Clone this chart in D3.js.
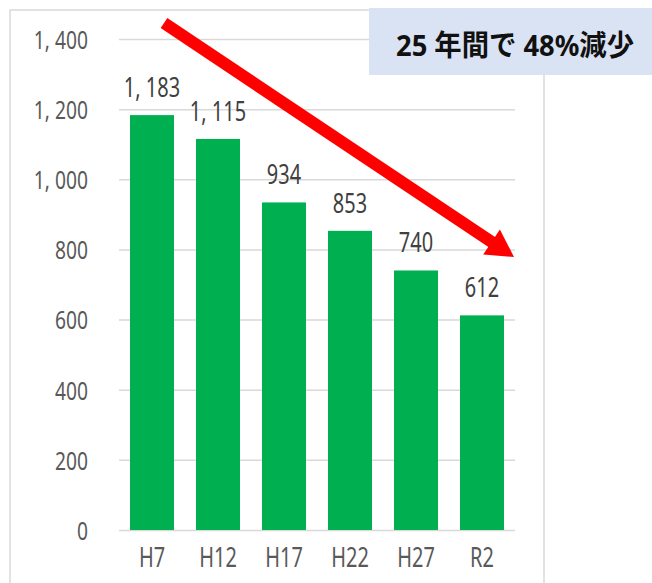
<!DOCTYPE html>
<html>
<head>
<meta charset="utf-8">
<script src="https://cdn.jsdelivr.net/npm/d3@7"></script>
<style>
  body { margin: 0; background: #fff; }
  svg text { font-family: "Noto Sans", "Noto Sans CJK JP", sans-serif; }
</style>
</head>
<body>
<div id="chart"></div>
<script>
// data
const years = ["H7", "H12", "H17", "H22", "H27", "R2"];
const counts = [1183, 1115, 934, 853, 740, 612];
const yTicks = [0, 200, 400, 600, 800, 1000, 1200, 1400];
const note = "25 年間で 48%減少";

const W = 652, H = 583;
const plot = {left: 119, right: 515, top: 39, bottom: 530};
const SX = 0.74; // the original font is a narrow one

// squeeze text horizontally, keeping its anchor point
function narrow(sel, sx) {
    sel.each(function() {
        let t = d3.select(this);
        let x0 = +t.attr("x") || 0;
        t.attr("x", x0 / sx).attr("transform", `scale(${sx},1)`);
    });
}

let svg = d3.select("#chart")
    .append("svg")
    .attr("width", W)
    .attr("height", H);

// outer frame of the chart area
svg.append("rect")
    .attr("x", 10).attr("y", 10)
    .attr("width", 534).attr("height", H + 20)
    .attr("fill", "#fff")
    .attr("stroke", "#d9d9d9")
    .attr("stroke-width", 1.5);

let x = d3.scaleBand()
    .domain(years)
    .range([plot.left, plot.right])
    .paddingInner(1 / 3)
    .paddingOuter(1 / 6);

let y = d3.scaleLinear()
    .domain([0, 1400])
    .range([plot.bottom, plot.top]);

const fmt = d => d3.format(",")(d).replace(",", ", ");

// y axis with gridlines
let yAxis = svg.append("g")
    .attr("transform", `translate(${plot.left},0)`)
    .call(d3.axisLeft(y)
        .tickValues(yTicks)
        .tickSize(-(plot.right - plot.left))
        .tickPadding(31)
        .tickFormat(fmt));
yAxis.select(".domain").remove();
yAxis.selectAll("line").attr("stroke", "#d9d9d9").attr("stroke-width", 1.5);
yAxis.selectAll("text")
    .attr("fill", "#595959")
    .attr("dy", "0.36em")
    .style("font-size", "26px")
    .call(narrow, SX);

// x axis labels
let xAxis = svg.append("g")
    .attr("transform", `translate(0,${plot.bottom})`)
    .call(d3.axisBottom(x).tickSize(0).tickPadding(0));
xAxis.select(".domain").remove();
xAxis.selectAll("text")
    .attr("dy", 37)
    .attr("fill", "#595959")
    .style("font-size", "27px")
    .call(narrow, SX);

// bars
svg.selectAll("rect.bar")
    .data(counts)
    .enter()
    .append("rect")
    .attr("class", "bar")
    .attr("x", (d, i) => x(years[i]))
    .attr("y", d => y(d))
    .attr("width", x.bandwidth())
    .attr("height", d => y(0) - y(d))
    .attr("fill", "#00b050");

// value labels
svg.selectAll("text.val")
    .data(counts)
    .enter()
    .append("text")
    .attr("class", "val")
    .attr("x", (d, i) => x(years[i]) + x.bandwidth() / 2)
    .attr("y", d => y(d) - 18)
    .attr("text-anchor", "middle")
    .attr("fill", "#404040")
    .style("font-size", "27px")
    .text(fmt)
    .call(narrow, SX);

// red trend arrow
const a0 = [164, 23], a1 = [514, 257];
const dx = a1[0] - a0[0], dy = a1[1] - a0[1];
const len = Math.hypot(dx, dy);
const ux = dx / len, uy = dy / len, px = -uy, py = ux;
const headLen = 27, headHalf = 15;
const base = [a1[0] - ux * headLen, a1[1] - uy * headLen];
svg.append("line")
    .attr("x1", a0[0]).attr("y1", a0[1])
    .attr("x2", base[0] + ux * 2).attr("y2", base[1] + uy * 2)
    .attr("stroke", "#ff0000")
    .attr("stroke-width", 12);
svg.append("path")
    .attr("d", d3.line()([
        a1,
        [base[0] + px * headHalf, base[1] + py * headHalf],
        [base[0] - px * headHalf, base[1] - py * headHalf]
    ]) + "Z")
    .attr("fill", "#ff0000");

// note box
svg.append("rect")
    .attr("x", 369).attr("y", 8)
    .attr("width", W - 369).attr("height", 67)
    .attr("fill", "#dae3f3");
svg.append("text")
    .attr("x", 396).attr("y", 56)
    .attr("fill", "#111")
    .attr("textLength", 238)
    .attr("lengthAdjust", "spacingAndGlyphs")
    .style("font-size", "29px")
    .style("font-weight", "bold")
    .text(note);
</script>
</body>
</html>
